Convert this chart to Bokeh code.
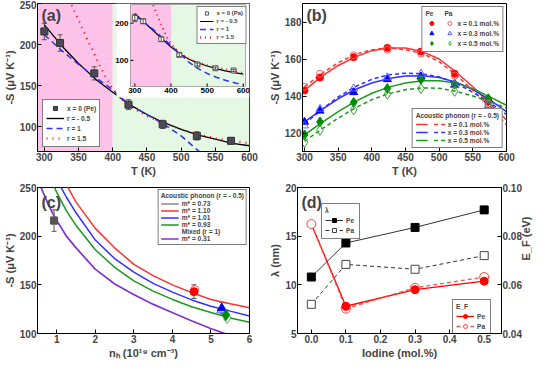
import math
from bokeh.plotting import figure
from bokeh.layouts import column, row
from bokeh.models import (Range1d, LinearAxis, Legend, LegendItem, Whisker,
                          ColumnDataSource, BoxAnnotation, Label, FixedTicker, TeeHead,
                          NumeralTickFormatter)
from bokeh.core.properties import value
from bokeh.embed import file_html
from bokeh.resources import INLINE

# ---------------- data ----------------
# (a) main: Pe, x = 0
a_T = [300, 323, 373, 423, 473, 523, 573]
a_S_pe = [216, 202, 165, 127, 103, 89, 83]
a_err_pe = [10, 10, 8, 6, 5, 5, 4]
a_fit_T = [300, 325, 350, 375, 400, 425, 450, 475, 500, 525, 550, 575, 600]
a_fit_rm05 = [224, 199, 177, 158, 142, 127, 115, 105, 97, 90, 85, 80, 77]
a_fit_r1 = [212, 193, 176, 160, 145, 126, 115, 103, 89, 71, 55, 45, 38]
a_fit_T15 = [335, 340, 350, 360, 370, 380, 390, 400, 410, 425, 450, 475, 500, 525, 550, 575, 600]
a_fit_r15 = [262, 248, 230, 211, 194, 176, 160, 146, 136, 125, 113, 104, 97, 91, 86, 83, 80]
# (a) inset: Pa, x = 0
in_S_pa = [214, 205, 157, 115, 89, 79, 73]
in_err_pa = [10, 6, 6, 5, 4, 3, 3]
in_fit_rm05 = [226, 203, 181, 158, 136, 117, 103, 93, 85, 78, 72, 67, 63]
in_fit_r1 = [220, 203, 184, 162, 140, 117, 95, 78, 65, 55, 47, 40, 35]
in_fit_T15 = [351, 355, 360, 370, 380, 390, 400, 410, 425, 450, 475, 500, 525, 550, 575, 600]
in_fit_r15 = [248, 238, 226, 202, 180, 160, 144, 133, 120, 104, 94, 87, 81, 76, 71, 66]
in_xticks = [300, 400, 500, 600]
in_yticks = [100, 200]

# (b)
b_T = [300, 323, 373, 423, 473, 523, 573]
b_pe_01 = [143, 150, 161, 166, 164, 152, 137]
b_pa_01 = [145, 152, 162, 165, 163, 151, 136]
b_pe_03 = [126, 132, 142, 149, 150.5, 146, 138]
b_pa_03 = [124, 133, 144, 150, 152, 146, 135]
b_pe_05 = [119, 126, 136.5, 144, 149, 146.5, 138.5]
b_pa_05 = [115, 121.5, 132.5, 141, 144, 142.5, 135]
b_fit_T = [300, 325, 350, 375, 400, 425, 450, 475, 500, 525, 550, 575, 600]
b_fit_pe_01 = [143, 150.5, 156.5, 161, 164.5, 166, 166, 164, 160, 153, 145, 136, 127]
b_fit_pa_01 = [145, 152, 158, 162.5, 165, 166, 165, 163, 158.5, 151.5, 143, 134, 124.5]
b_fit_pe_03 = [126, 132.5, 138.5, 143.5, 147, 149.5, 150.8, 151, 150, 147.5, 143.5, 138, 131.5]
b_fit_pa_03 = [125, 132.5, 139.5, 145, 149, 151.5, 152.3, 152, 150.3, 147, 142, 136.5, 130]
b_fit_pe_05 = [119, 125.5, 131.5, 137, 141.5, 144.8, 147, 148.2, 148.3, 147, 144, 139.5, 135]
b_fit_pa_05 = [115.5, 122, 128, 133.5, 138, 141.2, 143.4, 144.4, 144.2, 142.5, 140, 137, 133.5]

# (c)
c_n_073 = [0.58, 0.7, 0.8, 0.9, 1.0, 1.25, 1.5, 2.0, 2.5, 3.0, 3.5, 4.0, 4.5, 5.0, 5.5]
c_S_073 = [251, 240, 231, 223, 216, 200, 188, 166, 151, 140, 130, 121.5, 113, 105, 98]
c_n_110 = [1.25, 1.5, 2.0, 2.5, 3.0, 3.5, 4.0, 4.5, 5.0, 5.5, 6.0]
c_S_110 = [253, 235, 208, 188, 171, 159.5, 150, 142, 135, 130.5, 126.5]
c_n_101 = [1.1, 1.25, 1.5, 2.0, 2.5, 3.0, 3.5, 4.0, 4.5, 5.0, 5.5, 6.0]
c_S_101 = [251, 240, 224, 196, 177, 163, 151.5, 142.5, 134.5, 128, 123, 118]
c_n_093 = [0.93, 1.0, 1.25, 1.5, 2.0, 2.5, 3.0, 3.5, 4.0, 4.5, 5.0, 5.5, 6.0]
c_S_093 = [251, 245, 226, 211, 186, 168, 154, 143.5, 135, 127.5, 121.5, 116, 111.5]
c_n_031 = c_n_073
c_S_031 = c_S_073
c_n_pe = [0.93, 4.56, 5.28, 5.39]
c_S_pe = [216, 143, 126, 119]
c_err_pe = [11, 7, 6, 5]
c_n_pa = [0.93, 4.58, 5.27, 5.42]
c_S_pa = [216, 145, 124, 116]

# (d)
d_x = [0.0, 0.1, 0.3, 0.5]
d_lam_pe = [10.8, 14.3, 15.9, 17.7]
d_lam_pa = [8.0, 12.1, 11.6, 13.0]
d_ef_pe = [0.085, 0.0512, 0.058, 0.0615]
d_ef_pa = [0.085, 0.0502, 0.0588, 0.0632]

# ---------------- style ----------------
FONT = "Liberation Sans"
LFS = "6.6px"
PINK = "#ffc2e8"
GREEN_BG = "#e4f8e4"
RED = "#ff0000"
BLUE = "#0000ff"
GRN = "#008a00"
RED_L = "#ff3030"
BLUE_L = "#3030ff"
GRN_L = "#1a9a1a"
GRAY = "#555555"


def make_fig(xr, yr, fw, fh, bl, br, bt, bb):
    p = figure(frame_width=fw, frame_height=fh, x_range=Range1d(*xr), y_range=Range1d(*yr),
               output_backend="svg", toolbar_location=None,
               min_border_left=bl, min_border_right=br, min_border_top=bt,
               min_border_bottom=bb)
    p.xgrid.visible = False
    p.ygrid.visible = False
    p.outline_line_color = "black"
    p.outline_line_width = 1
    p.background_fill_color = "white"
    return p


def style_axis(ax, ticks, label, fs="10px", lfs="11px"):
    ax.ticker = FixedTicker(ticks=ticks)
    ax.axis_label = label if label else None
    ax.axis_label_text_font = FONT
    ax.axis_label_text_font_style = "bold"
    ax.axis_label_text_font_size = lfs
    ax.axis_label_standoff = 1
    ax.major_label_text_font = FONT
    ax.major_label_text_font_style = "bold"
    ax.major_label_text_font_size = fs
    ax.major_label_standoff = 1
    ax.major_tick_in = 4
    ax.major_tick_out = 0
    ax.minor_tick_line_color = None
    ax.axis_line_color = "black"


def style_legend(lg, fs=LFS):
    lg.label_text_font = FONT
    lg.label_text_font_style = "bold"
    lg.label_text_font_size = fs
    lg.title_text_font = FONT
    lg.title_text_font_style = "bold"
    lg.title_text_font_size = fs
    lg.title_standoff = 1
    lg.glyph_height = 9
    lg.label_height = 9
    lg.glyph_width = 16
    lg.label_width = 10
    lg.label_standoff = 3
    lg.spacing = 0
    lg.padding = 3
    lg.margin = 3
    lg.border_line_color = "black"
    lg.border_line_width = 1
    lg.background_fill_alpha = 1


def panel_label(p, text, y):
    p.add_layout(Label(x=4, y=y, x_units="screen", y_units="screen", text=text,
                       text_font=FONT, text_font_style="bold", text_font_size="16px",
                       text_baseline="top"))


def errorbars(p, xs, ys, errs, color, **kw):
    src = ColumnDataSource(dict(x=xs, lower=[y - e for y, e in zip(ys, errs)],
                                upper=[y + e for y, e in zip(ys, errs)]))
    p.add_layout(Whisker(source=src, base="x", lower="lower", upper="upper",
                         line_color=color, line_width=1,
                         lower_head=TeeHead(size=5, line_color=color),
                         upper_head=TeeHead(size=5, line_color=color), **kw))


# ---------------- (a) ----------------
FW_A, FH_A = 212, 148
pa = make_fig((290, 600), (70, 250), FW_A, FH_A, 32, 16, 3, 28)
pa.add_layout(BoxAnnotation(right=400, fill_color=PINK, fill_alpha=1, line_alpha=0, level="underlay"))
pa.add_layout(BoxAnnotation(left=400, fill_color=GREEN_BG, fill_alpha=1, line_alpha=0, level="underlay"))
style_axis(pa.xaxis[0], [300, 350, 400, 450, 500, 550, 600], "T (K)")
style_axis(pa.yaxis[0], [100, 150, 200, 250], "-S (μV K⁻¹)")
r_m05 = pa.line(a_fit_T, a_fit_rm05, line_color="black", line_width=1.3)
r_1 = pa.line(a_fit_T, a_fit_r1, line_color=BLUE_L, line_width=1.5, line_dash="6 4")
r_15 = pa.line(a_fit_T15, a_fit_r15, line_color=RED, line_width=2, line_dash="1 5")
errorbars(pa, a_T, a_S_pe, a_err_pe, GRAY)
r_pe = pa.scatter(a_T, a_S_pe, marker="square", size=7, fill_color="#4a4a5a", line_color="#333333")
lg_a = Legend(items=[LegendItem(label="x = 0 (Pe)", renderers=[r_pe]),
                     LegendItem(label="r = - 0.5", renderers=[r_m05]),
                     LegendItem(label="r = 1", renderers=[r_1]),
                     LegendItem(label="r = 1.5", renderers=[r_15])],
              location=(5, 4))
style_legend(lg_a)
lg_a.margin = 0
lg_a.glyph_height = 10
lg_a.label_height = 10
lg_a.glyph_width = 18
pa.add_layout(lg_a)
panel_label(pa, "(a)", 145)

# ---- inset drawn inside (a) through its own ranges ----
IX0, IX1, IY0, IY1 = 288, 606, 30, 250          # inset axis ranges
IL, IR, IB, IT = 93, 208, 65, 147                 # inset frame inside (a) frame, px
WL, WB = 79, 54                                   # white inset area (labels), px
sx = (IX1 - IX0) / (IR - IL)
sy = (IY1 - IY0) / (IT - IB)
pa.extra_x_ranges = {"ix": Range1d(IX0 - IL * sx, IX1 + (FW_A - IR) * sx)}
pa.extra_y_ranges = {"iy": Range1d(IY0 - IB * sy, IY1 + (FH_A - IT) * sy)}
IN = dict(x_range_name="ix", y_range_name="iy")
pa.add_layout(BoxAnnotation(left=IX0 - (IL - WL) * sx, bottom=IY0 - (IB - WB) * sy,
                            fill_color="white", fill_alpha=1, line_alpha=0, **IN))
pa.add_layout(BoxAnnotation(left=IX0, right=400, bottom=IY0, top=IY1, fill_color=PINK,
                            fill_alpha=1, line_alpha=0, **IN))
pa.add_layout(BoxAnnotation(left=400, right=IX1, bottom=IY0, top=IY1, fill_color=GREEN_BG,
                            fill_alpha=1, line_alpha=0, **IN))
pa.add_layout(BoxAnnotation(left=IX0, right=IX1, bottom=IY0, top=IY1, fill_alpha=0,
                            line_color="black", line_width=1, **IN))
pa.segment(x0=in_xticks, y0=[IY0] * len(in_xticks), x1=in_xticks,
           y1=[IY0 + 3 * sy] * len(in_xticks), line_color="black", level="overlay", **IN)
pa.segment(x0=[IX0] * len(in_yticks), y0=in_yticks, x1=[IX0 + 3 * sx] * len(in_yticks),
           y1=in_yticks, line_color="black", level="overlay", **IN)
pa.text(x=in_xticks, y=[IY0] * len(in_xticks), text=[str(t) for t in in_xticks],
        text_align="center", text_baseline="top", y_offset=1, text_font=value(FONT),
        text_font_style="bold", text_font_size="8px", text_color="black", level="overlay", **IN)
pa.text(x=[IX0] * len(in_yticks), y=in_yticks, text=[str(t) for t in in_yticks],
        text_align="right", text_baseline="middle", x_offset=-2, text_font=value(FONT),
        text_font_style="bold", text_font_size="8px", text_color="black", level="overlay", **IN)
i_m05 = pa.line(a_fit_T, in_fit_rm05, line_color="black", line_width=1.2, level="overlay", **IN)
i_1 = pa.line(a_fit_T, in_fit_r1, line_color=BLUE_L, line_width=1.5, line_dash="6 4",
              level="overlay", **IN)
i_15 = pa.line(in_fit_T15, in_fit_r15, line_color=RED, line_width=2, line_dash="1 4",
               level="overlay", **IN)
errorbars(pa, a_T, in_S_pa, in_err_pa, GRAY, level="overlay", **IN)
i_pa = pa.scatter(a_T, in_S_pa, marker="square", size=5, fill_color="white",
                  line_color="#555555", level="overlay", **IN)
lg_in = Legend(items=[LegendItem(label="x = 0 (Pa)", renderers=[i_pa]),
                      LegendItem(label="r = - 0.5", renderers=[i_m05]),
                      LegendItem(label="r = 1", renderers=[i_1]),
                      LegendItem(label="r = 1.5", renderers=[i_15])],
               location="top_right")
style_legend(lg_in, fs="6px")
lg_in.glyph_width = 14
lg_in.glyph_height = 8
lg_in.label_height = 8
lg_in.margin = 3
lg_in.padding = 2
pa.add_layout(lg_in)

# ---------------- (b) ----------------
pb = make_fig((297, 600), (110, 190), 204, 148, 32, 38, 3, 28)
style_axis(pb.xaxis[0], [300, 350, 400, 450, 500, 550, 600], "T (K)")
style_axis(pb.yaxis[0], [120, 140, 160, 180], "-S (μV K⁻¹)")
lines_b = []
for fit, col, dash in [(b_fit_pe_01, RED_L, "solid"), (b_fit_pe_03, BLUE_L, "solid"),
                       (b_fit_pe_05, GRN_L, "solid"), (b_fit_pa_01, RED_L, "4 3"),
                       (b_fit_pa_03, BLUE_L, "4 3"), (b_fit_pa_05, GRN_L, "4 3")]:
    lines_b.append(pb.line(b_fit_T, fit, line_color=col, line_width=1.5, line_dash=dash))
pe_b = [pb.scatter(b_T, b_pe_01, marker="circle", size=7, fill_color=RED, line_color=RED),
        pb.scatter(b_T, b_pe_03, marker="triangle", size=8, fill_color=BLUE, line_color=BLUE),
        pb.scatter(b_T, b_pe_05, marker="diamond", size=10, fill_color=GRN, line_color=GRN)]
pa_b = [pb.scatter(b_T, b_pa_01, marker="circle", size=7, fill_color=None, line_color="#ff6060"),
        pb.scatter(b_T, b_pa_03, marker="triangle", size=8, fill_color=None, line_color="#6060ff"),
        pb.scatter(b_T, b_pa_05, marker="diamond", size=10, fill_color=None, line_color="#40a040")]
labels_b = ["x = 0.1 mol.%", "x = 0.3 mol.%", "x = 0.5 mol.%"]
items_b1 = [LegendItem(label="", renderers=[r]) for r in pe_b] + \
           [LegendItem(label=t, renderers=[r]) for r, t in zip(pa_b, labels_b)]
lg_b1 = Legend(items=items_b1, ncols=2, location="top_right", title="Pe      Pa")
style_legend(lg_b1)
lg_b1.glyph_width = 12
lg_b1.label_width = 4
lg_b1.label_height = 10
lg_b1.glyph_height = 10
lg_b1.label_standoff = 2
pb.add_layout(lg_b1)
items_b2 = [LegendItem(label="", renderers=[r]) for r in lines_b[:3]] + \
           [LegendItem(label=t, renderers=[r]) for r, t in zip(lines_b[3:], labels_b)]
lg_b2 = Legend(items=items_b2, ncols=2, location="bottom_right",
               title="Acoustic phonon (r = - 0.5)")
style_legend(lg_b2)
lg_b2.glyph_width = 12
lg_b2.label_width = 4
lg_b2.glyph_height = 8
lg_b2.label_height = 8
lg_b2.label_standoff = 2
lg_b2.margin = 3
pb.add_layout(lg_b2)
panel_label(pb, "(b)", 145)

# ---------------- (c) ----------------
pc = make_fig((0.5, 6), (100, 250), 212, 146, 32, 16, 8, 28)
style_axis(pc.xaxis[0], [1, 2, 3, 4, 5, 6], "nₕ (10¹⁹ cm⁻³)")
style_axis(pc.yaxis[0], [100, 150, 200, 250], "-S (μV K⁻¹)")
c_gray = pc.line(c_n_073, c_S_073, line_color="#888888", line_width=1.5)
c_red = pc.line(c_n_110, c_S_110, line_color=RED_L, line_width=1.5)
c_blue = pc.line(c_n_101, c_S_101, line_color=BLUE_L, line_width=1.5)
c_grn = pc.line(c_n_093, c_S_093, line_color=GRN_L, line_width=1.5)
c_pur = pc.line(c_n_031, c_S_031, line_color="#8a2be2", line_width=1.5)
c_hdr = pc.line(c_n_031, c_S_031, line_alpha=0)
c_cols = ["#555555", RED, BLUE, GRN]
c_marks = ["square", "circle", "triangle", "diamond"]
c_sizes = [7, 8, 9, 11]
for i in range(4):
    pc.scatter([c_n_pa[i]], [c_S_pa[i]], marker=c_marks[i], size=c_sizes[i],
               fill_color="white", line_color=c_cols[i], line_alpha=0.6)
errorbars(pc, c_n_pe, c_S_pe, c_err_pe, GRAY)
for i in range(4):
    pc.scatter([c_n_pe[i]], [c_S_pe[i]], marker=c_marks[i], size=c_sizes[i],
               fill_color=c_cols[i], line_color=c_cols[i])
lg_c = Legend(items=[LegendItem(label="m* = 0.73", renderers=[c_gray]),
                     LegendItem(label="m* = 1.10", renderers=[c_red]),
                     LegendItem(label="m* = 1.01", renderers=[c_blue]),
                     LegendItem(label="m* = 0.93", renderers=[c_grn]),
                     LegendItem(label="Mixed (r = 1)", renderers=[c_hdr]),
                     LegendItem(label="m* = 0.31", renderers=[c_pur])],
              location="top_right", title="Acoustic phonon (r = - 0.5)")
style_legend(lg_c)
lg_c.glyph_width = 18
lg_c.glyph_height = 7
lg_c.label_height = 7
lg_c.padding = 2
lg_c.margin = 2
pc.add_layout(lg_c)
panel_label(pc, "(c)", 140)

# ---------------- (d) ----------------
pd_ = make_fig((-0.04, 0.55), (5, 20), 204, 146, 32, 38, 8, 28)
pd_.extra_y_ranges = {"ef": Range1d(0.04, 0.10)}
style_axis(pd_.xaxis[0], [0.0, 0.1, 0.2, 0.3, 0.4, 0.5], "Iodine (mol.%)")
pd_.xaxis[0].formatter = NumeralTickFormatter(format="0.0")
style_axis(pd_.yaxis[0], [5, 10, 15, 20], "λ (nm)")
ax_r = LinearAxis(y_range_name="ef")
style_axis(ax_r, [0.04, 0.06, 0.08, 0.10], "E_F (eV)")
ax_r.formatter = NumeralTickFormatter(format="0.00")
if hasattr(ax_r, "axis_label_orientation"):
    ax_r.axis_label_orientation = math.pi / 2
pd_.add_layout(ax_r, "right")
l_pe_line = pd_.line(d_x, d_lam_pe, line_color="#333333", line_width=1)
l_pa_line = pd_.line(d_x, d_lam_pa, line_color="#333333", line_width=1, line_dash="4 3")
l_pe_pts = pd_.scatter(d_x, d_lam_pe, marker="square", size=8, fill_color="black", line_color="black")
l_pa_pts = pd_.scatter(d_x, d_lam_pa, marker="square", size=8, fill_color="white", line_color="#444444")
e_pe_line = pd_.line(d_x, d_ef_pe, y_range_name="ef", line_color=RED, line_width=1.3)
e_pa_line = pd_.line(d_x, d_ef_pa, y_range_name="ef", line_color="#ff5050", line_width=1.3, line_dash="4 3")
e_pa_pts = pd_.scatter(d_x, d_ef_pa, y_range_name="ef", marker="circle", size=9,
                       fill_color="white", line_color="#ff4040")
e_pe_pts = pd_.scatter(d_x[1:], d_ef_pe[1:], y_range_name="ef", marker="circle", size=8,
                       fill_color=RED, line_color=RED)
lg_d1 = Legend(items=[LegendItem(label="Pe", renderers=[l_pe_line, l_pe_pts]),
                      LegendItem(label="Pa", renderers=[l_pa_line, l_pa_pts])],
               location=(24, 94), title="λ")
style_legend(lg_d1)
lg_d1.glyph_width = 18
lg_d1.glyph_height = 10
lg_d1.label_height = 10
pd_.add_layout(lg_d1)
lg_d2 = Legend(items=[LegendItem(label="Pe", renderers=[e_pe_line, e_pe_pts]),
                      LegendItem(label="Pa", renderers=[e_pa_line, e_pa_pts])],
               location=(155, -2), title="E_F")
style_legend(lg_d2)
lg_d2.glyph_width = 18
lg_d2.glyph_height = 10
lg_d2.label_height = 10
pd_.add_layout(lg_d2)
panel_label(pd_, "(d)", 140)

layout = column(row(pa, pb, spacing=0), row(pc, pd_, spacing=0), spacing=0)

open("out.html", "w").write(file_html(layout, INLINE))
